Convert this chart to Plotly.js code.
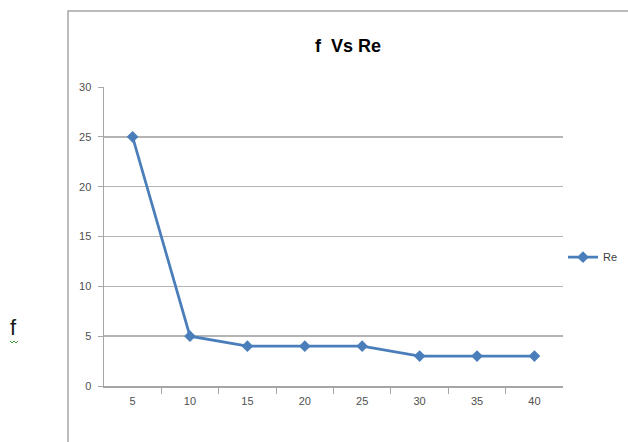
<!DOCTYPE html>
<html>
<head>
<meta charset="utf-8">
<script src="https://cdn.plot.ly/plotly-3.0.1.min.js"></script>
<style>
  html, body { margin: 0; padding: 0; background: #ffffff; }
  #chart { width: 628px; height: 442px; }
</style>
</head>
<body>
<div id="chart"></div>
<script>
// Friction factor readings against Reynolds number
const reLabels = ['5', '10', '15', '20', '25', '30', '35', '40'];
const fValues = [25, 5, 4, 4, 4, 3, 3, 3];
const yTicks = [0, 5, 10, 15, 20, 25, 30];

const tickFont = { family: '"Liberation Sans", Arial, sans-serif', size: 11, color: '#505050' };

const trace = {
  type: 'scatter',
  mode: 'lines+markers',
  name: 'Re',
  x: reLabels,
  y: fValues,
  line: { color: '#4a7ebb', width: 2.75 },
  marker: { symbol: 'diamond', size: 9, color: '#4a7ebb' }
};

const layout = {
  width: 628,
  height: 442,
  margin: { l: 104, r: 65, t: 87, b: 56, autoexpand: false },
  paper_bgcolor: '#ffffff',
  plot_bgcolor: '#ffffff',
  showlegend: true,
  legend: {
    x: 1.0, y: 0.431, xanchor: 'left', yanchor: 'middle',
    font: { family: '"Liberation Sans", Arial, sans-serif', size: 11, color: '#404040' },
    itemwidth: 30,
    bgcolor: 'rgba(0,0,0,0)'
  },
  xaxis: {
    type: 'category',
    tickson: 'boundaries',
    ticks: 'outside',
    ticklen: 6,
    tickcolor: '#a6a6a6',
    showgrid: false,
    showline: true,
    linecolor: '#a6a6a6',
    linewidth: 1.5,
    tickfont: tickFont,
    ticklabelstandoff: 4,
    fixedrange: true
  },
  yaxis: {
    range: [0, 30],
    tickvals: yTicks,
    ticks: 'outside',
    ticklen: 5,
    tickcolor: '#a6a6a6',
    showgrid: true,
    gridcolor: '#b4b4b4',
    gridwidth: 1.5,
    zeroline: false,
    showline: true,
    linecolor: '#a6a6a6',
    linewidth: 1.5,
    tickfont: tickFont,
    ticklabelstandoff: 4,
    fixedrange: true
  },
  annotations: [
    {
      text: '<b>f  Vs Re</b>',
      xref: 'paper', yref: 'paper',
      x: 0.5316, y: 1.137, xanchor: 'center', yanchor: 'middle',
      showarrow: false,
      font: { family: '"Liberation Sans", Arial, sans-serif', size: 18, color: '#000000' }
    },
    {
      text: 'f',
      xref: 'paper', yref: 'paper',
      x: -0.197, y: 0.194, xanchor: 'center', yanchor: 'middle',
      showarrow: false,
      font: { family: '"Liberation Sans", Arial, sans-serif', size: 22, color: '#1a1a1a' }
    }
  ],
  shapes: [
    {
      // outer chart frame, running off the right and bottom edges
      type: 'rect', xref: 'paper', yref: 'paper',
      x0: -0.0784, x1: 1.3, y0: -0.3, y1: 1.254,
      line: { color: '#a6a6a6', width: 1.5 },
      fillcolor: 'rgba(0,0,0,0)',
      layer: 'below'
    },
    {
      // spell-check squiggle under the stray "f"
      type: 'path', xref: 'paper', yref: 'paper',
      path: 'M -0.2048 0.1505 L -0.2005 0.1438 L -0.1961 0.1505 L -0.1918 0.1438 L -0.1874 0.1505',
      line: { color: '#3c9a3c', width: 1 }
    }
  ]
};

Plotly.newPlot('chart', [trace], layout, { displayModeBar: false, staticPlot: true });
</script>
</body>
</html>
